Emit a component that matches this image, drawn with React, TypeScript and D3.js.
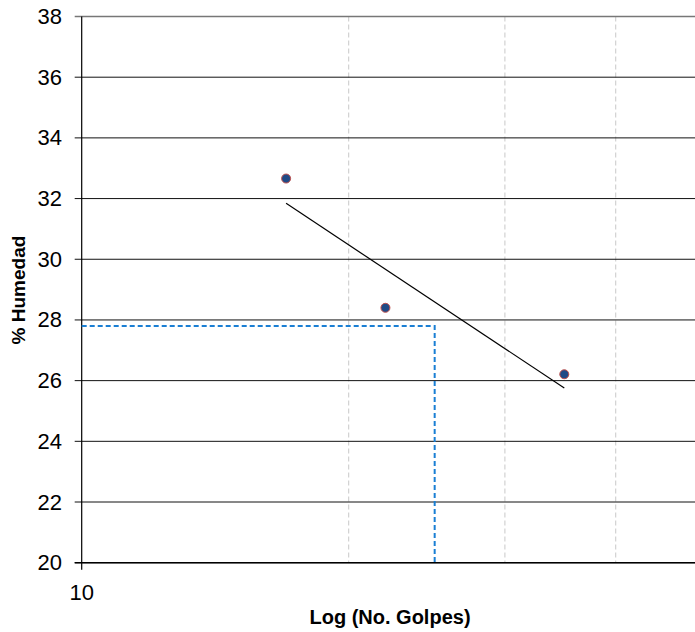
import React from "react";
import * as d3 from "d3";

const golpes = [17, 22, 35];
const humedad = [32.66, 28.4, 26.21];
const yTicks = [20, 22, 24, 26, 28, 30, 32, 34, 36, 38];
const xMinorGrid = [20, 30, 40, 50, 60, 70, 80, 90];
const xTickLabels = [10];
const refGolpes = 25;
const refHumedad = 27.8;

const W = 695;
const H = 632;

export default function App() {
  const x = d3.scaleLog().domain([10, 100]).range([81.7, 968.7]);
  const y = d3.scaleLinear().domain([20, 38]).range([562.7, 16.5]);

  // least-squares fit of humedad on log10(golpes)
  const lx = golpes.map((g) => Math.log10(g));
  const mx = d3.mean(lx) as number;
  const my = d3.mean(humedad) as number;
  let sxy = 0,
    sxx = 0;
  lx.forEach((v, i) => {
    sxy += (v - mx) * (humedad[i] - my);
    sxx += (v - mx) * (v - mx);
  });
  const slope = sxy / sxx;
  const fit = (g: number) => my + slope * (Math.log10(g) - mx);
  const gMin = d3.min(golpes) as number;
  const gMax = d3.max(golpes) as number;
  const trend = d3
    .line<number>()
    .x((g) => x(g))
    .y((g) => y(fit(g)))([gMin, gMax]);

  const x0 = x(10);
  const yBottom = y(20);
  const font = "Arial, 'Liberation Sans', sans-serif";

  return (
    <svg
      width={W}
      height={H}
      style={{ position: "absolute", left: 0, top: 0, background: "#fff" }}
      fontFamily={font}
    >
      {/* minor vertical gridlines */}
      {xMinorGrid.map((g) => (
        <line
          key={"vg" + g}
          x1={x(g)}
          x2={x(g)}
          y1={y(38)}
          y2={yBottom}
          stroke="#c8c8c8"
          strokeWidth={1}
          strokeDasharray="5,3"
        />
      ))}
      {/* horizontal gridlines */}
      {yTicks.map((t) => (
        <line
          key={"hg" + t}
          x1={x0 - 7}
          x2={W}
          y1={y(t)}
          y2={y(t)}
          stroke={t === 38 ? "#777" : "#111"}
          strokeWidth={t === 38 ? 1.6 : 1}
        />
      ))}
      {/* y axis */}
      <line x1={x0} x2={x0} y1={y(38)} y2={yBottom + 7} stroke="#000" strokeWidth={1.2} />
      <line x1={x0 - 7} x2={W} y1={yBottom} y2={yBottom} stroke="#000" strokeWidth={1.4} />
      {/* y tick labels */}
      {yTicks.map((t) => (
        <text
          key={"yl" + t}
          x={62}
          y={y(t)}
          textAnchor="end"
          dominantBaseline="central"
          fontSize={22}
          fill="#000"
        >
          {t}
        </text>
      ))}
      {/* x tick labels */}
      {xTickLabels.map((t) => (
        <text key={"xl" + t} x={x(t)} y={600} textAnchor="middle" fontSize={22} fill="#000">
          {t}
        </text>
      ))}
      {/* reference dashed lines */}
      <polyline
        points={`${x0},${y(refHumedad)} ${x(refGolpes)},${y(refHumedad)} ${x(refGolpes)},${yBottom}`}
        fill="none"
        stroke="#1a7fd4"
        strokeWidth={2}
        strokeDasharray="5,3"
      />
      {/* trend line */}
      <path d={trend || ""} fill="none" stroke="#000" strokeWidth={1.2} />
      {/* points */}
      {golpes.map((g, i) => (
        <circle
          key={"p" + i}
          cx={x(g)}
          cy={y(humedad[i])}
          r={4.5}
          fill="#1f4a86"
          stroke="#c0504d"
          strokeWidth={1}
        />
      ))}
      {/* axis titles */}
      <text x={390} y={624} textAnchor="middle" fontSize={20} fontWeight="bold" fill="#000">
        Log (No. Golpes)
      </text>
      <text
        transform={`translate(25,290) rotate(-90)`}
        textAnchor="middle"
        fontSize={19}
        fontWeight="bold"
        fill="#000"
      >
        % Humedad
      </text>
    </svg>
  );
}
